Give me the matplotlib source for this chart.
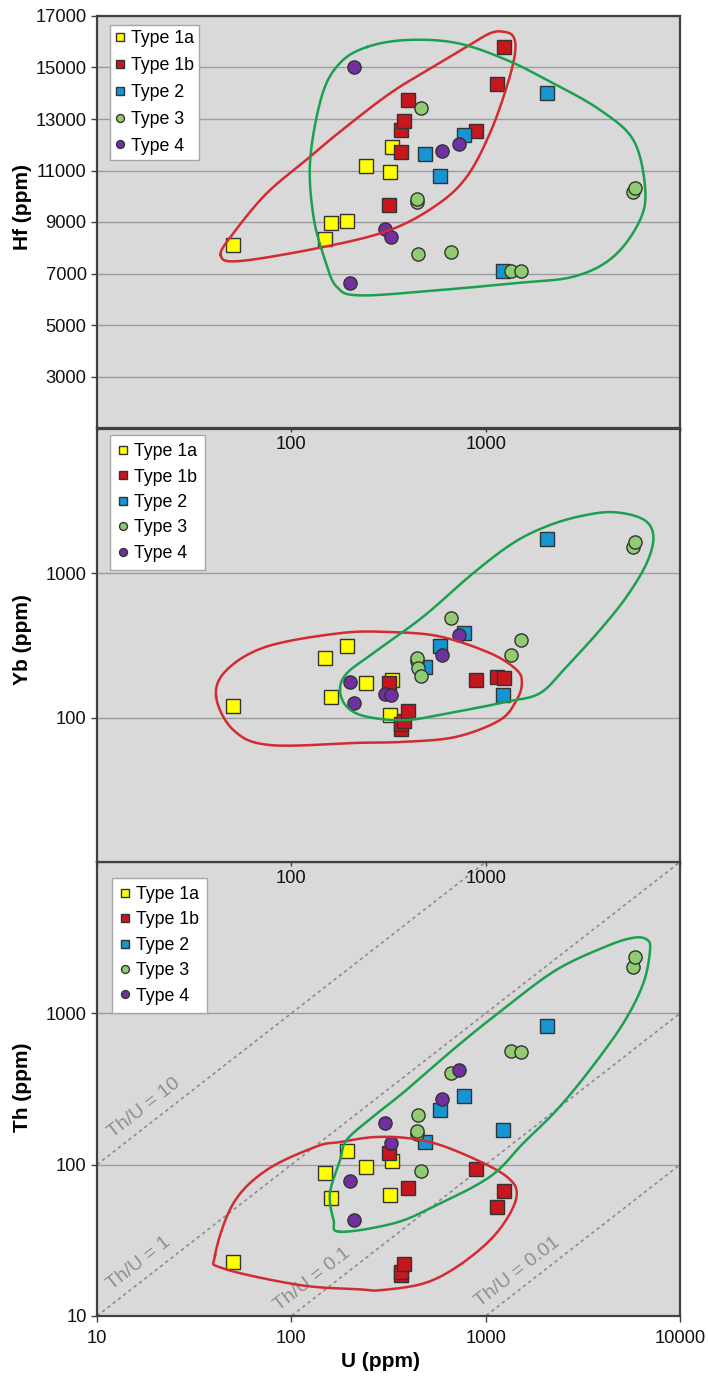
import numpy as np
import matplotlib.pyplot as plt
from matplotlib.ticker import NullLocator

plt.rcParams['font.family'] = ['Liberation Sans', 'DejaVu Sans']

types = ['Type 1a', 'Type 1b', 'Type 2', 'Type 3', 'Type 4']
colors = ['#ffff00', '#c8161f', '#1596d2', '#92cc72', '#7030a0']
markers = ['s', 's', 's', 'o', 'o']

# U (ppm) per group, shared by the three panels
u_1a = [50, 149, 160, 194, 243, 321, 329]
u_1b = [317, 366, 366, 382, 397, 893, 1148, 1247]
u_2 = [485, 585, 774, 1233, 2061]
u_3 = [444, 444, 449, 463, 667, 1346, 1521, 5700, 5890]
u_4 = [200, 210, 303, 325, 597, 727]

hf_1a = [8100, 8330, 8970, 9050, 11180, 10930, 11900]
hf_1b = [9650, 11710, 12570, 12920, 13740, 12550, 14360, 15810]
hf_2 = [11650, 10790, 12380, 7100, 14000]
hf_3 = [9770, 9880, 7745, 13440, 7820, 7100, 7110, 10180, 10330]
hf_4 = [6620, 15000, 8715, 8430, 11760, 12030]

yb_1a = [120, 261, 138, 315, 173, 105, 183]
yb_1b = [175, 83.5, 90, 95, 111, 181, 190, 187]
yb_2 = [224, 315, 389, 144, 1734]
yb_3 = [245, 261, 220, 193, 490, 270, 343, 1524, 1641]
yb_4 = [176, 127, 146, 144, 272, 375]

th_1a = [22.8, 88.5, 59.8, 123, 96.6, 63, 106]
th_1b = [119, 18.6, 19.5, 22.0, 69.8, 93.5, 52.7, 67.3]
th_2 = [141, 231, 286, 170, 820]
th_3 = [160, 167, 213, 90.8, 403, 560, 555, 2028, 2350]
th_4 = [78.3, 43.4, 188, 139, 273, 420]

u_all = [u_1a, u_1b, u_2, u_3, u_4]
hf_all = [hf_1a, hf_1b, hf_2, hf_3, hf_4]
yb_all = [yb_1a, yb_1b, yb_2, yb_3, yb_4]
th_all = [th_1a, th_1b, th_2, th_3, th_4]

# hand drawn field outlines (U, value) going round each field
hf_red_u = [43.3, 54.5, 149, 322, 560, 800, 1053, 1284, 1416, 1389, 1233, 1053, 800, 538, 322, 178, 125, 74.7, 50.3]
hf_red_v = [7718, 7485, 8041, 8689, 9660, 10759, 12456, 14254, 15551, 16196, 16390, 16328, 15808, 15031, 13998, 12507, 11536, 10115, 8561]
hf_green_u = [245, 178, 144, 125, 130, 149, 171, 226, 582, 1389, 2827, 4540, 6230, 6607, 5754, 3882, 2230, 1284, 710, 393]
hf_green_v = [15796, 15175, 13932, 11408, 9206, 7524, 6487, 6150, 6359, 6619, 6876, 7652, 9078, 10371, 12184, 13350, 14386, 15291, 15951, 16068]

yb_red_u = [41, 46.5, 74.7, 178, 322, 582, 1053, 1445, 1535, 1445, 1186, 710, 393, 226, 77.6, 50.3]
yb_red_v = [140, 214, 311, 385, 392, 365, 280, 214, 173, 133, 96.4, 73.8, 68.1, 67, 64.6, 82.2]
yb_green_u = [178, 193, 264, 478, 865, 1389, 2061, 3063, 4540, 6487, 7295, 6745, 5322, 3882, 2612, 1905, 1284, 710, 393, 244, 193]
yb_green_v = [156, 203, 280, 502, 1006, 1626, 2118, 2488, 2654, 2361, 1807, 1180, 692, 406, 226, 148, 129, 110, 96.4, 101.6, 119]

th_red_u = [40.5, 44.7, 111, 226, 286, 478, 710, 1053, 1335, 1445, 1284, 935, 582, 393, 264, 178, 135, 74.7, 50.3]
th_red_v = [25.2, 20.6, 16.0, 15.0, 14.8, 16.4, 21.1, 31.7, 47.6, 66.2, 83.3, 105, 135, 150, 152, 141, 132, 92.3, 55.5]
th_green_u = [178, 335, 538, 1053, 1564, 2323, 3443, 5117, 6487, 7015, 6745, 5754, 4198, 2323, 1284, 710, 393, 264, 193, 178, 158, 165]
th_green_v = [36, 40.9, 52.7, 83.3, 139, 230, 424, 863, 1589, 2642, 3076, 3157, 2780, 1945, 1112, 604, 313, 208, 146, 107, 64.7, 43.0]

# Th/U reference lines
ratios = [10, 1, 0.1, 0.01]
ratio_texts = ['Th/U = 10', 'Th/U = 1', 'Th/U = 0.1', 'Th/U = 0.01']
ratio_text_u = [17.5, 16.4, 129, 1452]
u_line = [10, 10000]


def smooth_loop(u, v, logv, n=40):
    pts = np.column_stack([np.log10(u), np.log10(v) if logv else np.asarray(v, float)])
    m = len(pts)
    t = np.linspace(0, 1, n, endpoint=False)[:, None]
    segs = []
    for i in range(m):
        p0, p1, p2, p3 = pts[i - 1], pts[i], pts[(i + 1) % m], pts[(i + 2) % m]
        segs.append(0.5 * (2 * p1 + (p2 - p0) * t + (2 * p0 - 5 * p1 + 4 * p2 - p3) * t ** 2
                           + (-p0 + 3 * p1 - 3 * p2 + p3) * t ** 3))
    out = np.vstack(segs + [pts[:1]])
    x = 10 ** out[:, 0]
    y = 10 ** out[:, 1] if logv else out[:, 1]
    return x, y


def style(ax):
    ax.set_facecolor('#d9d9d9')
    for s in ax.spines.values():
        s.set_color('#404040')
        s.set_linewidth(1.6)
    ax.yaxis.grid(True, color='#9c9c9c', lw=1)
    ax.set_axisbelow(True)
    ax.set_xscale('log')
    ax.set_xlim(10, 10000)
    ax.xaxis.set_minor_locator(NullLocator())
    ax.tick_params(labelsize=13.2, labelcolor='#111111', color='#404040', length=4, width=1)


def draw_points(ax, values, anchor, pad):
    for u, v, c, m, lab in zip(u_all, values, colors, markers, types):
        ax.plot(u, v, ls='none', marker=m, ms=9.5, mfc=c, mec='#333333', mew=1, label=lab, zorder=3)
    ax.legend(loc='upper left', bbox_to_anchor=anchor, markerscale=0.6, fontsize=12.8,
              frameon=True, fancybox=False, framealpha=1, edgecolor='#a6a6a6',
              borderpad=pad, handlelength=0.6, handletextpad=0.3,
              labelspacing=0.55 - (pad - 0.3) * 0.5, borderaxespad=0)


fig = plt.figure(figsize=(7.08, 13.76), dpi=100)
ax1 = fig.add_axes([97 / 708, 1 - 428 / 1376, 583 / 708, 412 / 1376])
ax2 = fig.add_axes([97 / 708, 1 - 862 / 1376, 583 / 708, 433 / 1376])
ax3 = fig.add_axes([97 / 708, 1 - 1316 / 1376, 583 / 708, 454 / 1376])
ax1.set_zorder(3)
ax2.set_zorder(2)
ax3.set_zorder(1)

for ax in (ax1, ax2, ax3):
    style(ax)

# Hf panel
ax1.set_ylim(1000, 17000)
ax1.set_yticks(range(3000, 17001, 2000))
draw_points(ax1, hf_all, (0.022, 0.978), 0.3)
ax1.plot(*smooth_loop(hf_red_u, hf_red_v, False), color='#d42a32', lw=1.8, zorder=4)
ax1.plot(*smooth_loop(hf_green_u, hf_green_v, False), color='#1aa04f', lw=1.8, zorder=4)
ax1.set_ylabel('Hf (ppm)', fontsize=15, fontweight='bold')

# Yb panel
ax2.set_yscale('log')
ax2.set_ylim(10, 10000)
ax2.set_yticks([100, 1000], ['100', '1000'])
ax2.yaxis.set_minor_locator(NullLocator())
draw_points(ax2, yb_all, (0.022, 0.986), 0.45)
ax2.plot(*smooth_loop(yb_red_u, yb_red_v, True), color='#d42a32', lw=1.8, zorder=4)
ax2.plot(*smooth_loop(yb_green_u, yb_green_v, True), color='#1aa04f', lw=1.8, zorder=4)
ax2.set_ylabel('Yb (ppm)', fontsize=15, fontweight='bold')

# Th panel
ax3.set_yscale('log')
ax3.set_ylim(10, 10000)
ax3.set_yticks([10, 100, 1000], ['10', '100', '1000'])
ax3.yaxis.set_minor_locator(NullLocator())
p0 = ax3.transData.transform((10, 10))
p1 = ax3.transData.transform((10000, 10000))
angle = np.degrees(np.arctan2(p1[1] - p0[1], p1[0] - p0[0]))
for r, txt, tu in zip(ratios, ratio_texts, ratio_text_u):
    ax3.plot(u_line, [r * x for x in u_line], color='#8c8c8c', lw=1.2, ls=(0, (2, 2)), zorder=2)
    ax3.text(tu, r * tu * 1.35, txt, color='#8f8f8f', fontsize=14, rotation=angle,
             rotation_mode='anchor', ha='center', va='center', zorder=2)
draw_points(ax3, th_all, (0.026, 0.965), 0.45)
ax3.plot(*smooth_loop(th_red_u, th_red_v, True), color='#d42a32', lw=1.8, zorder=4)
ax3.plot(*smooth_loop(th_green_u, th_green_v, True), color='#1aa04f', lw=1.8, zorder=4)
ax3.set_ylabel('Th (ppm)', fontsize=15, fontweight='bold')
ax3.set_xlabel('U (ppm)', fontsize=15, fontweight='bold')

# x tick labels: upper panels show only 100 and 1000, spilling into the panel below
for ax in (ax1, ax2):
    ax.set_xticks([10, 100, 1000, 10000], ['', '100', '1000', ''])
    ax.tick_params(axis='x', length=3, pad=3)
ax3.set_xticks([10, 100, 1000, 10000], ['10', '100', '1000', '10000'])
ax3.tick_params(axis='x', length=4, pad=6)

ax1.yaxis.set_label_coords(-0.112, 0.536)
ax2.yaxis.set_label_coords(-0.112, 0.513)
ax3.yaxis.set_label_coords(-0.112, 0.503)
ax3.xaxis.set_label_coords(0.487, -0.08)

fig.savefig('out.png', dpi=100, facecolor='white')
